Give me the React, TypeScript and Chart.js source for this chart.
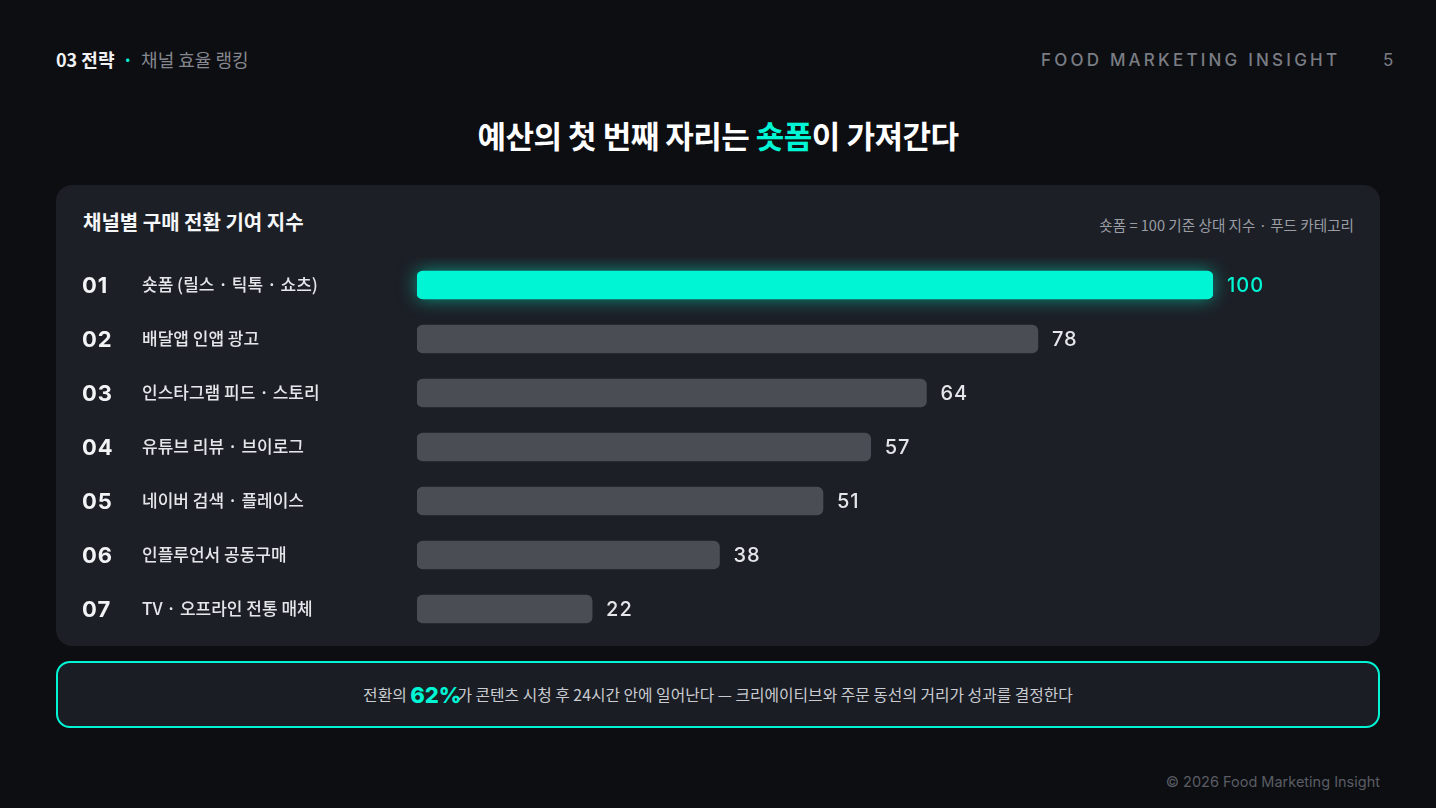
import React, { useEffect, useRef } from "react";
import Chart from "chart.js/auto";

const rankLabels = ["01", "02", "03", "04", "05", "06", "07"];
const categories = [
  "숏폼 (릴스 · 틱톡 · 쇼츠)",
  "배달앱 인앱 광고",
  "인스타그램 피드 · 스토리",
  "유튜브 리뷰 · 브이로그",
  "네이버 검색 · 플레이스",
  "인플루언서 공동구매",
  "TV · 오프라인 전통 매체",
];
const values = [100, 78, 64, 57, 51, 38, 22];

const TEAL = "#00F5D4";
const GRAY_BAR = "#4A4D54";
const KR = '"Noto Sans CJK KR", "Noto Sans", sans-serif';
const LAT = 'Inter, "Noto Sans", sans-serif';

const CANVAS_W = 1324;
const CANVAS_H = 378;

function BarChart() {
  const ref = useRef<HTMLCanvasElement | null>(null);
  useEffect(() => {
    if (!ref.current) return;
    const labelPlugin = {
      id: "rowLabels",
      beforeDatasetsDraw(chart: any) {
        const ctx = chart.ctx;
        const meta = chart.getDatasetMeta(0);
        const el = meta.data[0];
        if (el) {
          const { x, y, base, height } = el.getProps(["x", "y", "base", "height"], true);
          ctx.save();
          ctx.shadowColor = "rgba(0,245,212,0.55)";
          ctx.shadowBlur = 18;
          ctx.fillStyle = TEAL;
          ctx.beginPath();
          (ctx as any).roundRect(base, y - height / 2, x - base, height, 6);
          ctx.fill();
          ctx.restore();
        }
      },
      afterDatasetsDraw(chart: any) {
        const ctx = chart.ctx;
        const meta = chart.getDatasetMeta(0);
        meta.data.forEach((bar: any, i: number) => {
          const { x, y } = bar.getProps(["x", "y"], true);
          ctx.save();
          ctx.textBaseline = "middle";
          ctx.textAlign = "left";
          ctx.fillStyle = "#F2F3F5";
          ctx.font = `700 22px ${LAT}`;
          (ctx as any).letterSpacing = "1px";
          ctx.fillText(rankLabels[i], 26, y + 1);
          (ctx as any).letterSpacing = "0px";
          ctx.fillStyle = "#E4E6EA";
          ctx.font = `500 17px ${KR}`;
          ctx.fillText(categories[i], 86, y);
          ctx.fillStyle = i === 0 ? TEAL : "#E4E6EA";
          ctx.font = `500 20px ${LAT}`;
          (ctx as any).letterSpacing = "1px";
          ctx.fillText(String(values[i]), x + 14, y + 1);
          ctx.restore();
        });
      },
    };
    const chart = new Chart(ref.current, {
      type: "bar",
      data: {
        labels: categories,
        datasets: [
          {
            data: values,
            backgroundColor: values.map((_, i) => (i === 0 ? TEAL : GRAY_BAR)),
            borderRadius: 6,
            borderSkipped: false,
            barThickness: 28,
          },
        ],
      },
      options: {
        indexAxis: "y",
        responsive: false,
        maintainAspectRatio: false,
        animation: false,
        layout: { padding: { left: 361, right: 167, top: 0, bottom: 0 } },
        plugins: { legend: { display: false }, tooltip: { enabled: false } },
        scales: {
          x: { display: false, min: 0, max: 100 },
          y: { display: false },
        },
      },
      plugins: [labelPlugin],
    });
    return () => chart.destroy();
  }, []);
  return <canvas ref={ref} width={CANVAS_W} height={CANVAS_H} style={{ position: "absolute", left: 0, top: 73 }} />;
}

export default function App() {
  return (
    <div
      style={{
        position: "fixed",
        left: 0,
        top: 0,
        width: 1436,
        height: 808,
        background: "#0D0E12",
        overflow: "hidden",
        fontFamily: KR,
      }}
    >
      <div style={{ position: "absolute", left: 56, top: 46, fontSize: 18, lineHeight: "26px", whiteSpace: "nowrap" }}>
        <span style={{ color: "#F0F1F3", fontWeight: 700 }}>03 전략</span>
        <span style={{ color: TEAL, margin: "0 8px", fontWeight: 700 }}>·</span>
        <span style={{ color: "#85888F" }}>채널 효율 랭킹</span>
      </div>
      <div
        style={{
          position: "absolute",
          left: 1041,
          top: 48,
          fontFamily: LAT,
          fontSize: 17,
          lineHeight: "24px",
          letterSpacing: 3.2,
          color: "#7A7D84",
          fontWeight: 500,
          whiteSpace: "nowrap",
        }}
      >
        FOOD MARKETING INSIGHT
      </div>
      <div style={{ position: "absolute", left: 1383, top: 48, fontFamily: LAT, fontSize: 17, lineHeight: "24px", color: "#7A7D84" }}>5</div>

      <div
        style={{
          position: "absolute",
          left: 0,
          width: 1436,
          top: 113,
          textAlign: "center",
          fontSize: 31,
          lineHeight: "44px",
          fontWeight: 600,
          color: "#FFFFFF",
          letterSpacing: -0.5,
        }}
      >
        예산의 첫 번째 자리는 <span style={{ color: TEAL, fontWeight: 700 }}>숏폼</span>이 가져간다
      </div>

      <div
        style={{
          position: "absolute",
          left: 56,
          top: 185,
          width: 1324,
          height: 461,
          background: "#1C1F26",
          borderRadius: 16,
        }}
      >
        <div style={{ position: "absolute", left: 27, top: 23, fontSize: 20, lineHeight: "28px", fontWeight: 700, color: "#F5F6F8" }}>
          채널별 구매 전환 기여 지수
        </div>
        <div style={{ position: "absolute", right: 26, top: 30, fontSize: 14.6, lineHeight: "20px", color: "#9A9DA4" }}>
          숏폼 = 100 기준 상대 지수 · 푸드 카테고리
        </div>
        <BarChart />
      </div>

      <div
        style={{
          position: "absolute",
          left: 56,
          top: 661,
          width: 1324,
          height: 67,
          boxSizing: "border-box",
          border: `2px solid ${TEAL}`,
          borderRadius: 14,
          background: "#1A1D24",
          display: "flex",
          alignItems: "center",
          justifyContent: "center",
          fontSize: 15.8,
          color: "#C9CBD0",
          whiteSpace: "nowrap",
        }}
      >
        <span>전환의&nbsp;</span>
        <span style={{ color: TEAL, fontFamily: LAT, fontWeight: 800, fontSize: 22, marginRight: -4 }}>62%</span>
        <span>가 콘텐츠 시청 후 24시간 안에 일어난다 — 크리에이티브와 주문 동선의 거리가 성과를 결정한다</span>
      </div>

      <div
        style={{
          position: "absolute",
          right: 56,
          top: 772,
          fontFamily: LAT,
          fontSize: 14.5,
          lineHeight: "20px",
          color: "#5A5D64",
          whiteSpace: "nowrap",
        }}
      >
        © 2026 Food Marketing Insight
      </div>
    </div>
  );
}
